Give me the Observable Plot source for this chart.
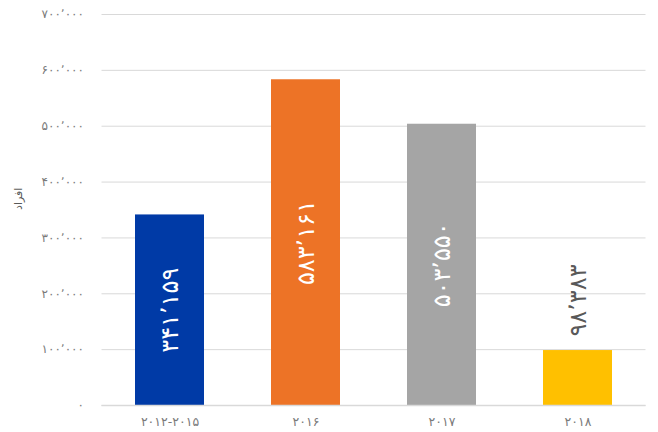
<!DOCTYPE html>
<html>
<head>
<meta charset="utf-8">
<script src="https://cdn.jsdelivr.net/npm/d3@7"></script>
<script src="https://cdn.jsdelivr.net/npm/@observablehq/plot@0.6"></script>
<style>
  body { margin: 0; background: #fff; }
  svg { display: block; }
</style>
</head>
<body>
<div id="chart"></div>
<script>
const categories = ["۲۰۱۲-۲۰۱۵", "۲۰۱۶", "۲۰۱۷", "۲۰۱۸"];
const values = [341159, 583161, 503550, 98383];
const colors = ["#003AA6", "#ED7326", "#A5A5A5", "#FFC000"];
const yTicks = [0, 100000, 200000, 300000, 400000, 500000, 600000, 700000];
const yTitle = "افراد";
const insideLabel = [true, true, true, false];

const faDigits = "۰۱۲۳۴۵۶۷۸۹";
const fa = n => n.toLocaleString("en-US").replace(/\d/g, d => faDigits[d]).replace(/,/g, "٬");

const data = categories.map((c, i) => ({cat: c, value: values[i], color: colors[i], inside: insideLabel[i]}));

const chart = Plot.plot({
  width: 658,
  height: 432,
  marginLeft: 101.5,
  marginRight: 12.5,
  marginTop: 14,
  marginBottom: 27,
  style: {fontFamily: "'DejaVu Sans', sans-serif", background: "#fff"},
  x: {domain: categories, paddingInner: 0.49, paddingOuter: 0.245, label: null},
  y: {domain: [0, 700000], label: null},
  marks: [
    Plot.gridY(yTicks, {stroke: "#d9d9d9", strokeOpacity: 1, strokeWidth: 1}),
    Plot.barY(data, {x: "cat", y: "value", fill: "color"}),
    Plot.ruleY([0], {stroke: "#d9d9d9", strokeWidth: 1.5}),
    Plot.axisY(yTicks, {tickSize: 0, tickPadding: 18, tickFormat: fa, fill: "#7a7a7a", fontSize: 12, label: null}),
    Plot.axisX({tickSize: 0, tickPadding: 12, fill: "#7a7a7a", fontSize: 12.5, label: null}),
    Plot.text(data.filter(d => d.inside), {x: "cat", y: d => d.value / 2, text: d => fa(d.value), rotate: -90, fill: "white", fontSize: 24, textAnchor: "middle"}),
    Plot.text(data.filter(d => !d.inside), {x: "cat", y: "value", text: d => fa(d.value), rotate: -90, fill: "#595959", fontSize: 24, textAnchor: "start", dy: -14}),
    Plot.text([yTitle], {frameAnchor: "left", dx: -84, rotate: -90, text: d => d, fill: "#595959", fontSize: 11})
  ]
});
document.getElementById("chart").append(chart);
</script>
</body>
</html>
